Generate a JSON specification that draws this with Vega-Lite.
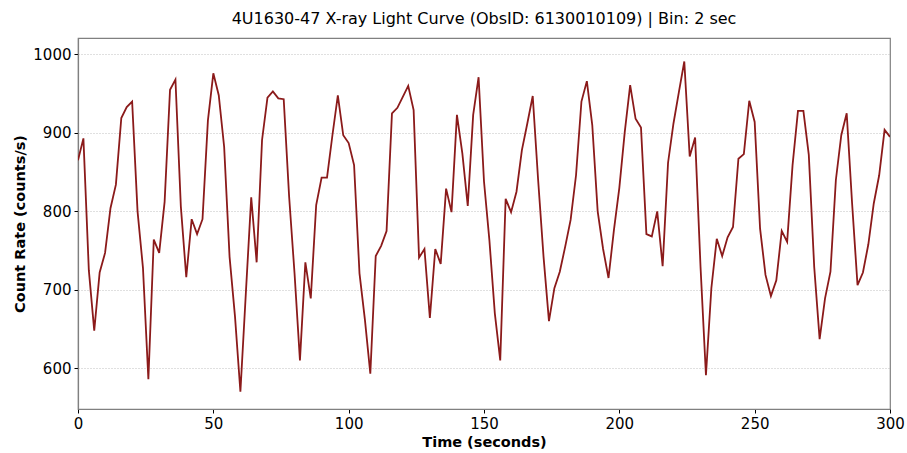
{
  "$schema": "https://vega.github.io/schema/vega-lite/v6.json",
  "autosize": "none",
  "width": 812,
  "height": 371,
  "padding": {"left": 78, "top": 38, "right": 17, "bottom": 44},
  "background": "white",
  "title": {
    "text": "4U1630-47 X-ray Light Curve (ObsID: 6130010109) | Bin: 2 sec",
    "font": "DejaVu Sans",
    "fontSize": 16,
    "fontWeight": "normal",
    "color": "#000000",
    "anchor": "middle",
    "frame": "group",
    "baseline": "alphabetic",
    "offset": -2
  },
  "config": {
    "view": {"stroke": "#808080", "strokeWidth": 1.2},
    "axis": {
      "labelFont": "DejaVu Sans",
      "labelFontSize": 15,
      "labelColor": "#000000",
      "labelFlush": false,
      "titleFont": "DejaVu Sans",
      "titleFontSize": 14.5,
      "titleFontWeight": "bold",
      "titleColor": "#000000",
      "domainColor": "#808080",
      "domainWidth": 1.2,
      "tickColor": "#000000",
      "tickSize": 4,
      "tickWidth": 1,
      "labelPadding": 3
    }
  },
  "data": {
    "values": [
      {"t": 0, "v": 865}, {"t": 2, "v": 893}, {"t": 4, "v": 725}, {"t": 6, "v": 648},
      {"t": 8, "v": 722}, {"t": 10, "v": 747}, {"t": 12, "v": 804}, {"t": 14, "v": 834},
      {"t": 16, "v": 919}, {"t": 18, "v": 933}, {"t": 20, "v": 940}, {"t": 22, "v": 800},
      {"t": 24, "v": 728}, {"t": 26, "v": 586}, {"t": 28, "v": 764}, {"t": 30, "v": 747},
      {"t": 32, "v": 812}, {"t": 34, "v": 955}, {"t": 36, "v": 968}, {"t": 38, "v": 806},
      {"t": 40, "v": 716}, {"t": 42, "v": 790}, {"t": 44, "v": 771}, {"t": 46, "v": 790},
      {"t": 48, "v": 916}, {"t": 50, "v": 976}, {"t": 52, "v": 948}, {"t": 54, "v": 882},
      {"t": 56, "v": 742}, {"t": 58, "v": 666}, {"t": 60, "v": 570}, {"t": 62, "v": 695},
      {"t": 64, "v": 818}, {"t": 66, "v": 735}, {"t": 68, "v": 891}, {"t": 70, "v": 945},
      {"t": 72, "v": 953}, {"t": 74, "v": 944}, {"t": 76, "v": 943}, {"t": 78, "v": 819},
      {"t": 80, "v": 721}, {"t": 82, "v": 610}, {"t": 84, "v": 735}, {"t": 86, "v": 689},
      {"t": 88, "v": 808}, {"t": 90, "v": 843}, {"t": 92, "v": 843}, {"t": 94, "v": 897},
      {"t": 96, "v": 948}, {"t": 98, "v": 897}, {"t": 100, "v": 887}, {"t": 102, "v": 859},
      {"t": 104, "v": 721}, {"t": 106, "v": 662}, {"t": 108, "v": 593}, {"t": 110, "v": 743},
      {"t": 112, "v": 756}, {"t": 114, "v": 775}, {"t": 116, "v": 925}, {"t": 118, "v": 932},
      {"t": 120, "v": 946}, {"t": 122, "v": 960}, {"t": 124, "v": 929}, {"t": 126, "v": 741},
      {"t": 128, "v": 752}, {"t": 130, "v": 664}, {"t": 132, "v": 752}, {"t": 134, "v": 733},
      {"t": 136, "v": 829}, {"t": 138, "v": 799}, {"t": 140, "v": 923}, {"t": 142, "v": 874},
      {"t": 144, "v": 807}, {"t": 146, "v": 923}, {"t": 148, "v": 971}, {"t": 150, "v": 838},
      {"t": 152, "v": 763}, {"t": 154, "v": 670}, {"t": 156, "v": 610}, {"t": 158, "v": 816},
      {"t": 160, "v": 799}, {"t": 162, "v": 825}, {"t": 164, "v": 878}, {"t": 166, "v": 912},
      {"t": 168, "v": 947}, {"t": 170, "v": 840}, {"t": 172, "v": 742}, {"t": 174, "v": 660},
      {"t": 176, "v": 702}, {"t": 178, "v": 723}, {"t": 180, "v": 755}, {"t": 182, "v": 789},
      {"t": 184, "v": 846}, {"t": 186, "v": 940}, {"t": 188, "v": 966}, {"t": 190, "v": 910},
      {"t": 192, "v": 800}, {"t": 194, "v": 752}, {"t": 196, "v": 715}, {"t": 198, "v": 776},
      {"t": 200, "v": 830}, {"t": 202, "v": 901}, {"t": 204, "v": 961}, {"t": 206, "v": 918},
      {"t": 208, "v": 907}, {"t": 210, "v": 771}, {"t": 212, "v": 768}, {"t": 214, "v": 800},
      {"t": 216, "v": 730}, {"t": 218, "v": 862}, {"t": 220, "v": 912}, {"t": 222, "v": 952},
      {"t": 224, "v": 991}, {"t": 226, "v": 870}, {"t": 228, "v": 894}, {"t": 230, "v": 729},
      {"t": 232, "v": 591}, {"t": 234, "v": 702}, {"t": 236, "v": 765}, {"t": 238, "v": 743},
      {"t": 240, "v": 767}, {"t": 242, "v": 780}, {"t": 244, "v": 867}, {"t": 246, "v": 873},
      {"t": 248, "v": 941}, {"t": 250, "v": 914}, {"t": 252, "v": 778}, {"t": 254, "v": 719},
      {"t": 256, "v": 692}, {"t": 258, "v": 712}, {"t": 260, "v": 775}, {"t": 262, "v": 761},
      {"t": 264, "v": 859}, {"t": 266, "v": 928}, {"t": 268, "v": 928}, {"t": 270, "v": 872},
      {"t": 272, "v": 729}, {"t": 274, "v": 637}, {"t": 276, "v": 689}, {"t": 278, "v": 723},
      {"t": 280, "v": 840}, {"t": 282, "v": 897}, {"t": 284, "v": 925}, {"t": 286, "v": 810},
      {"t": 288, "v": 706}, {"t": 290, "v": 722}, {"t": 292, "v": 758}, {"t": 294, "v": 810},
      {"t": 296, "v": 846}, {"t": 298, "v": 904}, {"t": 300, "v": 895}
    ]
  },
  "mark": {"type": "line", "color": "#8B1A1A", "strokeWidth": 1.8, "clip": true},
  "encoding": {
    "x": {
      "field": "t",
      "type": "quantitative",
      "scale": {"domain": [0, 300], "nice": false, "zero": false},
      "axis": {
        "title": "Time (seconds)",
        "values": [0, 50, 100, 150, 200, 250, 300],
        "format": "d",
        "grid": false,
        "titlePadding": 4
      }
    },
    "y": {
      "field": "v",
      "type": "quantitative",
      "scale": {"domain": [548, 1021], "nice": false, "zero": false},
      "axis": {
        "title": "Count Rate (counts/s)",
        "values": [600, 700, 800, 900, 1000],
        "format": "d",
        "grid": true,
        "gridColor": "#b0b0b0",
        "gridDash": [1, 2],
        "gridWidth": 0.8,
        "titlePadding": 5
      }
    }
  }
}
